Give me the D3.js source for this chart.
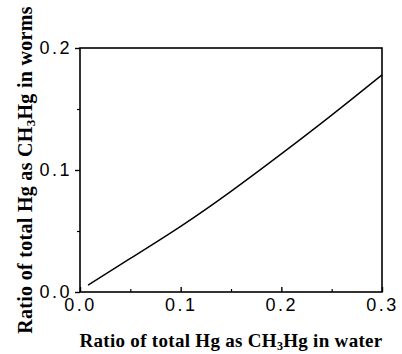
<!DOCTYPE html>
<html>
<head>
<meta charset="utf-8">
<script src="https://cdn.jsdelivr.net/npm/d3@7"></script>
<style>
  body { margin: 0; background: #fff; }
  svg { display: block; }
</style>
</head>
<body>
<div id="chart"></div>
<script>
// values
var waterRatio = [0.008, 0.05, 0.10, 0.15, 0.20, 0.25, 0.30];
var wormRatio  = [0.0057, 0.0275, 0.0538, 0.0825, 0.1132, 0.1450, 0.178];
var xMajor = [0, 0.1, 0.2, 0.3];
var xMinor = [0.05, 0.15, 0.25];
var yMajor = [0, 0.1, 0.2];
var yMinor = [0.05, 0.15];

var margin = { top: 48, right: 20, bottom: 62, left: 80 },
    width = 402 - margin.left - margin.right,
    height = 354 - margin.top - margin.bottom;

var svg = d3.select("#chart")
    .append("svg")
    .attr("width", 402)
    .attr("height", 354)
    .append("g")
    .attr("transform", "translate(" + margin.left + "," + margin.top + ")");

var x = d3.scaleLinear().domain([0, 0.3]).range([0, width]);
var y = d3.scaleLinear().domain([0, 0.2]).range([height, 0]);

// frame
svg.append("rect")
    .attr("x", 0).attr("y", 0)
    .attr("width", width).attr("height", height)
    .attr("fill", "none")
    .attr("stroke", "#000")
    .attr("stroke-width", 1.6);

// x axis: ticks point inward
var xAxis = svg.append("g")
    .attr("transform", "translate(0," + height + ")")
    .call(d3.axisBottom(x).tickValues(xMajor).tickSize(-5).tickPadding(6)
        .tickFormat(d3.format(".1f")));
xAxis.select(".domain").remove();
xAxis.selectAll("line").attr("stroke-width", 1.4);

svg.append("g")
    .attr("transform", "translate(0," + height + ")")
    .call(d3.axisBottom(x).tickValues(xMinor).tickSize(-3).tickFormat(""))
    .call(function (g) { g.select(".domain").remove(); })
    .selectAll("line").attr("stroke-width", 1.2);

// y axis: ticks point outward
var yAxis = svg.append("g")
    .call(d3.axisLeft(y).tickValues(yMajor).tickSize(5).tickPadding(3)
        .tickFormat(d3.format(".1f")));
yAxis.select(".domain").remove();
yAxis.selectAll("line").attr("stroke-width", 1.4);

svg.append("g")
    .call(d3.axisLeft(y).tickValues(yMinor).tickSize(3).tickFormat(""))
    .call(function (g) { g.select(".domain").remove(); })
    .selectAll("line").attr("stroke-width", 1.2);

svg.selectAll(".tick text")
    .attr("font-family", "'Liberation Sans', Arial, sans-serif")
    .attr("font-size", 18)
    .attr("letter-spacing", 2.5)
    .attr("fill", "#000");

// curve
var line = d3.line()
    .x(function (d, i) { return x(waterRatio[i]); })
    .y(function (d) { return y(d); })
    .curve(d3.curveNatural);

svg.append("path")
    .datum(wormRatio)
    .attr("d", line)
    .attr("fill", "none")
    .attr("stroke", "#000")
    .attr("stroke-width", 1.4);

// axis titles
var xt = svg.append("text")
    .attr("x", width / 2)
    .attr("y", height + 55)
    .attr("text-anchor", "middle")
    .attr("font-family", "'Liberation Serif', 'Times New Roman', serif")
    .attr("font-weight", "bold")
    .attr("letter-spacing", 0.3)
    .attr("font-size", 19);
xt.append("tspan").text("Ratio of total Hg as CH");
xt.append("tspan").attr("font-size", 12).attr("dy", 3).text("3");
xt.append("tspan").attr("dy", -3).text("Hg in water");

var yt = svg.append("text")
    .attr("transform", "translate(" + (-48) + "," + (height / 2) + ") rotate(-90)")
    .attr("text-anchor", "middle")
    .attr("font-family", "'Liberation Serif', 'Times New Roman', serif")
    .attr("font-weight", "bold")
    .attr("letter-spacing", 0.3)
    .attr("font-size", 20);
yt.append("tspan").text("Ratio of total Hg as CH");
yt.append("tspan").attr("font-size", 13).attr("dy", 3).text("3");
yt.append("tspan").attr("dy", -3).text("Hg in worms");
</script>
</body>
</html>
